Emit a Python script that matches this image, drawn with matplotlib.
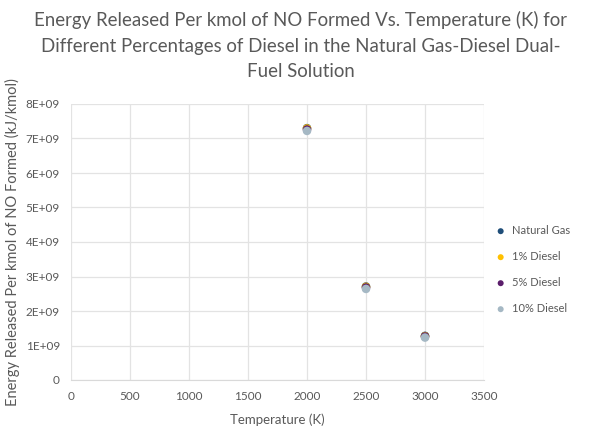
import matplotlib.pyplot as plt

# Data
temperature = [2000, 2500, 3000]
natural_gas = [7.30e9, 2.71e9, 1.28e9]
diesel_1 = [7.29e9, 2.70e9, 1.27e9]
diesel_5 = [7.26e9, 2.68e9, 1.26e9]
diesel_10 = [7.22e9, 2.64e9, 1.23e9]

series = [
    ("Natural Gas", natural_gas, "#1F4E79"),
    ("1% Diesel", diesel_1, "#FFC000"),
    ("5% Diesel", diesel_5, "#5B1E6B"),
    ("10% Diesel", diesel_10, "#A5B8C4"),
]

plt.rcParams['font.family'] = ['Lato', 'DejaVu Sans']
text_col = "#595959"

fig = plt.figure(figsize=(5.89, 4.41), dpi=100)
ax = fig.add_axes([71 / 589, 1 - 380 / 441, 413 / 589, 276 / 441])

for name, vals, col in series:
    ax.scatter(temperature, vals, s=38, color=col, label=name, zorder=3, edgecolors='none')

ax.set_xlim(0, 3500)
ax.set_ylim(0, 8e9)
ax.set_xticks(range(0, 3501, 500))
ax.set_yticks([i * 1e9 for i in range(9)])
ax.set_yticklabels(["0"] + [f"{i}E+09" for i in range(1, 9)])
ax.grid(True, color="#E3E3E3", linewidth=0.9)
ax.set_axisbelow(True)
for s in ["top", "right", "left"]:
    ax.spines[s].set_visible(False)
ax.spines["bottom"].set_color("#D9D9D9")
ax.tick_params(length=0, colors=text_col, labelsize=8.5, pad=8)

ax.set_xlabel("Temperature (K)", color=text_col, fontsize=9.5, labelpad=8)
ax.set_ylabel("Energy Released Per kmol of NO Formed (kJ/kmol)", color=text_col,
              fontsize=10.5, labelpad=4)

fig.text(0.51, 0.975,
         "Energy Released Per kmol of NO Formed Vs. Temperature (K) for\n"
         "Different Percentages of Diesel in the Natural Gas-Diesel Dual-\n"
         "Fuel Solution",
         ha="center", va="top", color=text_col, fontsize=13.4, linespacing=1.62)

ax.legend(loc="center left", bbox_to_anchor=(1.0, 0.40), frameon=False,
          fontsize=8, labelcolor=text_col, handletextpad=0.0, labelspacing=1.35,
          markerscale=0.7, borderpad=0)

fig.savefig("out.png", dpi=100)
